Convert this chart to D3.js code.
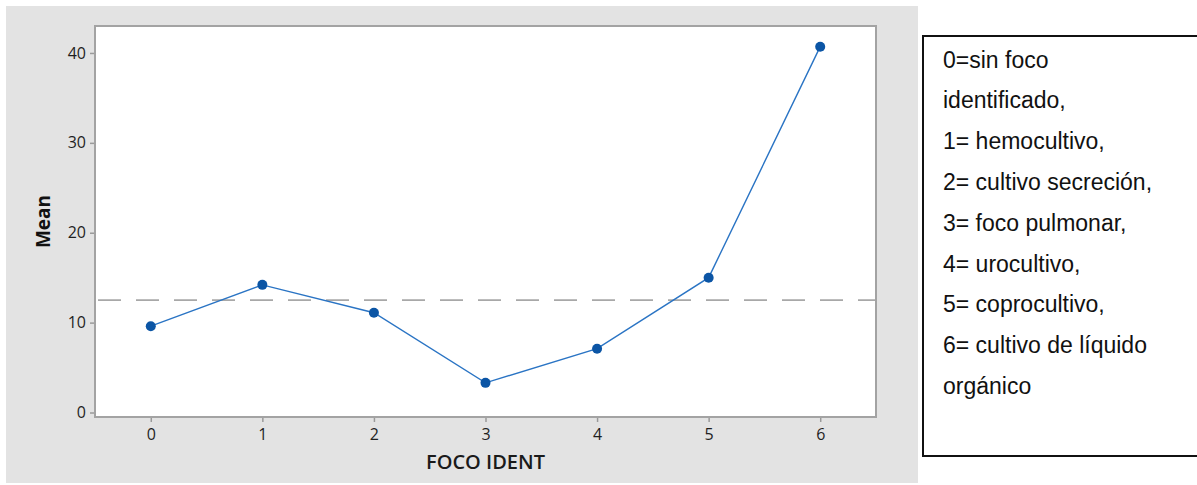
<!DOCTYPE html>
<html>
<head>
<meta charset="utf-8">
<script src="https://cdn.jsdelivr.net/npm/d3@7"></script>
<style>
  html, body { margin: 0; padding: 0; background: #ffffff; }
  svg { display: block; }
</style>
</head>
<body>
<svg id="chart" width="1197" height="485"></svg>
<script>
// Category codes for FOCO IDENT and the mean for each
const categories = [0, 1, 2, 3, 4, 5, 6];
const means = [9.6, 14.2, 11.1, 3.3, 7.1, 15.0, 40.7];
// Overall mean (reference line)
const overallMean = 12.5;
const yTicks = [0, 10, 20, 30, 40];
const legendLines = [
  "0=sin foco",
  "identificado,",
  "1= hemocultivo,",
  "2= cultivo secreción,",
  "3= foco pulmonar,",
  "4= urocultivo,",
  "5= coprocultivo,",
  "6= cultivo de líquido",
  "orgánico"
];

const svg = d3.select("#chart");
const plot = { left: 95, right: 876, top: 26, bottom: 417 };
const uiFont = "'Open Sans', 'Noto Sans', sans-serif";

// Panel background
svg.append("rect")
  .attr("x", 6).attr("y", 6)
  .attr("width", 912).attr("height", 477)
  .attr("fill", "#e3e3e3");

svg.append("rect")
  .attr("x", plot.left).attr("y", plot.top)
  .attr("width", plot.right - plot.left).attr("height", plot.bottom - plot.top)
  .attr("fill", "#ffffff");

const x = d3.scaleLinear().domain([-0.5, 6.5]).range([plot.left, plot.right]);
const y = d3.scaleLinear().domain([-0.5, 43]).range([plot.bottom, plot.top]);

// Axes
const xAxis = svg.append("g")
  .attr("transform", `translate(0,${plot.bottom})`)
  .call(d3.axisBottom(x).tickValues(categories).tickFormat(d3.format("d")).tickSize(5).tickPadding(7));
const yAxis = svg.append("g")
  .attr("transform", `translate(${plot.left},0)`)
  .call(d3.axisLeft(y).tickValues(yTicks).tickFormat(d3.format("d")).tickSize(5).tickPadding(4));

[xAxis, yAxis].forEach(g => {
  g.select(".domain").remove();
  g.selectAll(".tick line").attr("stroke", "#9a9a9a").attr("stroke-width", 1.5);
  g.selectAll(".tick text")
    .attr("fill", "#1f1f1f")
    .style("font-family", uiFont)
    .style("font-size", "16px")
    .style("font-weight", "500");
});

// Plot frame
svg.append("rect")
  .attr("x", plot.left).attr("y", plot.top)
  .attr("width", plot.right - plot.left).attr("height", plot.bottom - plot.top)
  .attr("fill", "none")
  .attr("stroke", "#a3a3a3")
  .attr("stroke-width", 2);

// Overall mean reference line
svg.append("line")
  .attr("x1", plot.left + 1).attr("x2", plot.right - 1)
  .attr("y1", y(overallMean)).attr("y2", y(overallMean))
  .attr("stroke", "#a8a8a8")
  .attr("stroke-width", 1.6)
  .attr("stroke-dasharray", "23,15")
  .attr("stroke-dashoffset", -2);

// Means connected
const line = d3.line()
  .x((d, i) => x(categories[i]))
  .y(d => y(d));

svg.append("path")
  .datum(means)
  .attr("d", line)
  .attr("fill", "none")
  .attr("stroke", "#2a74c4")
  .attr("stroke-width", 1.4);

svg.selectAll("circle.pt")
  .data(means)
  .join("circle")
  .attr("class", "pt")
  .attr("cx", (d, i) => x(categories[i]))
  .attr("cy", d => y(d))
  .attr("r", 5)
  .attr("fill", "#0b55a5");

// Axis titles
svg.append("text")
  .attr("x", (plot.left + plot.right) / 2)
  .attr("y", 469)
  .attr("text-anchor", "middle")
  .attr("fill", "#1a1a1a")
  .style("font-family", uiFont)
  .style("font-size", "20px")
  .style("font-weight", "600")
  .text("FOCO IDENT");

svg.append("text")
  .attr("transform", `translate(50,${(plot.top + plot.bottom) / 2}) rotate(-90)`)
  .attr("text-anchor", "middle")
  .attr("fill", "#111111")
  .style("font-family", uiFont)
  .style("font-size", "19px")
  .style("font-weight", "bold")
  .text("Mean");

// Code key box
svg.append("rect")
  .attr("x", 923).attr("y", 36)
  .attr("width", 290).attr("height", 420)
  .attr("fill", "#ffffff")
  .attr("stroke", "#111111")
  .attr("stroke-width", 2);

svg.append("g")
  .selectAll("text")
  .data(legendLines)
  .join("text")
  .attr("x", 943)
  .attr("y", (d, i) => 67.5 + i * 40.8)
  .attr("fill", "#111111")
  .style("font-family", "'Liberation Sans', Arial, sans-serif")
  .style("font-size", "23px")
  .text(d => d);
</script>
</body>
</html>
